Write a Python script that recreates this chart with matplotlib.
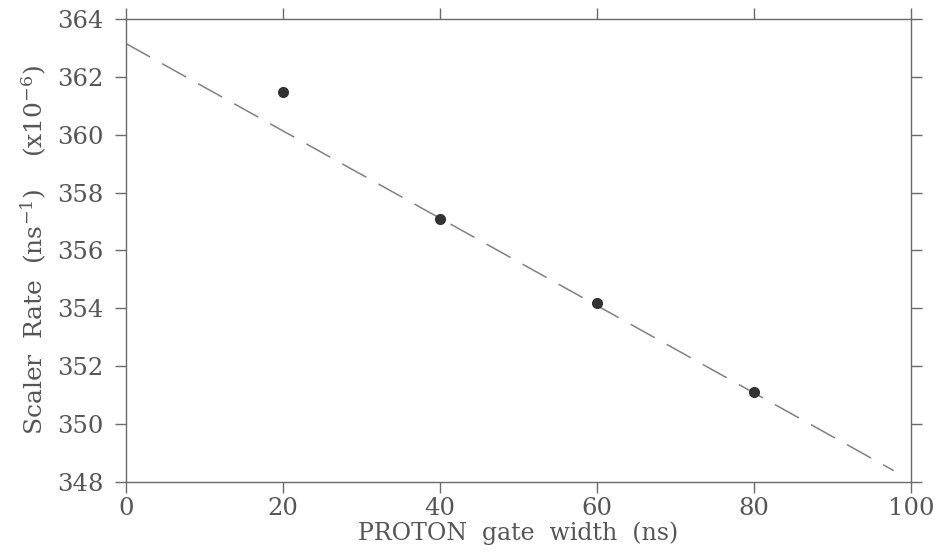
import matplotlib
matplotlib.use("Agg")
import matplotlib.pyplot as plt
import numpy as np

# Data
gate_width = [20, 40, 60, 80]
scaler_rate = [361.47, 357.10, 354.17, 351.10]
fit_intercept = 363.15
fit_slope = -0.151
fit_x_range = [0, 97.8]

x_ticks = [0, 20, 40, 60, 80, 100]
y_ticks = [348, 350, 352, 354, 356, 358, 360, 362, 364]

plt.rcParams['font.family'] = ['DejaVu Serif']
plt.rcParams['mathtext.fontset'] = 'dejavuserif'

text_color = '#555555'
axis_color = '#6a6a6a'

fig = plt.figure(figsize=(9.35, 5.54), dpi=100)
ax = fig.add_axes([0.1348, 0.1305, 0.8395, 0.8352])

fx = np.array(fit_x_range)
ax.plot(fx, fit_intercept + fit_slope * fx, color='#808080', lw=1.1,
        dashes=(18, 9), zorder=2)
ax.plot(gate_width, scaler_rate, 'o', color='#333333', ms=7, zorder=3)

ax.set_xlim(0, 100)
ax.set_ylim(348, 364)
ax.set_xticks(x_ticks)
ax.set_yticks(y_ticks)
ax.tick_params(axis='both', direction='out', length=8, width=1.0,
               color=axis_color, labelcolor=text_color, labelsize=17.5,
               top=True, right=True, labeltop=False, labelright=False)
ax.tick_params(axis='y', pad=8)
ax.tick_params(axis='x', pad=3)
for s in ax.spines.values():
    s.set_color(axis_color)
    s.set_linewidth(1.0)

ax.set_xlabel('PROTON  gate  width  (ns)', fontsize=17, color=text_color, labelpad=1)
ax.set_ylabel('Scaler  Rate  (ns$^{-1}$)    (x10$^{-6}$)', fontsize=18,
              color=text_color, labelpad=6)

fig.savefig('out.png', dpi=100)
